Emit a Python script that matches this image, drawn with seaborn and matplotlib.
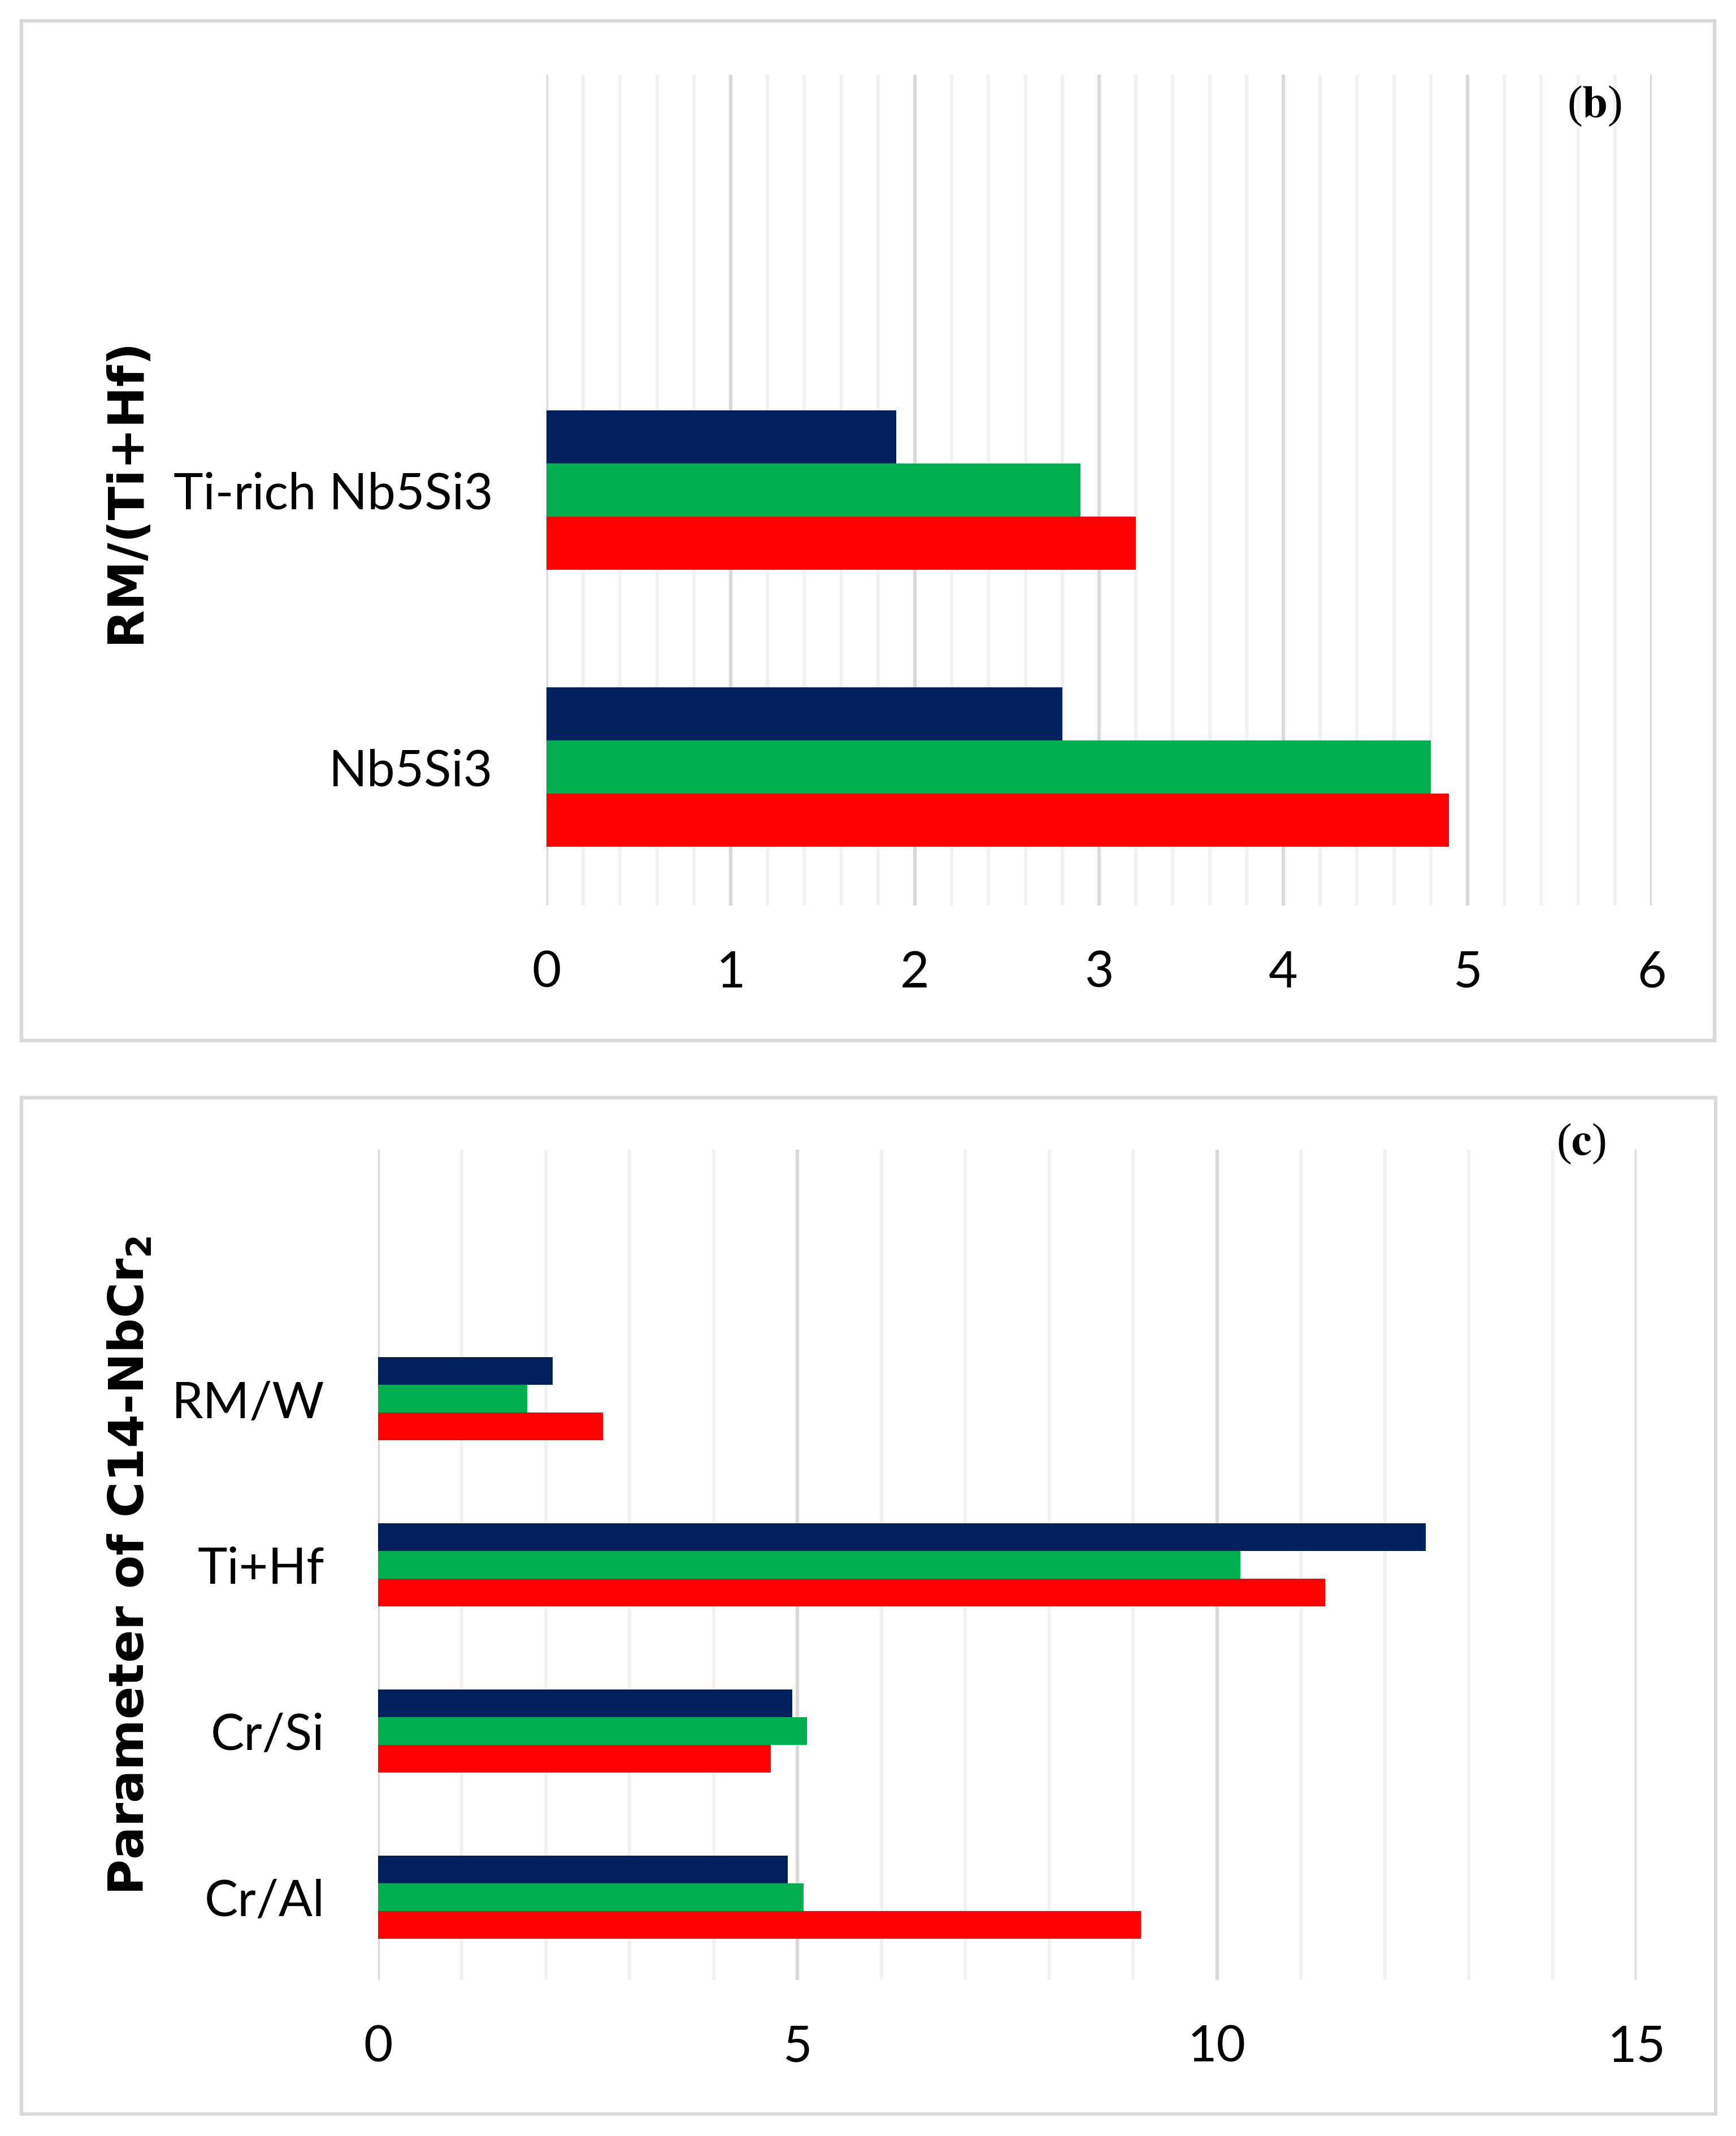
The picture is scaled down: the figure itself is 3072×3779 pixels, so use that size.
import pandas as pd
import seaborn as sns
import matplotlib.pyplot as plt
from matplotlib.patches import Rectangle
from matplotlib.ticker import MultipleLocator

# data
series = ["s1", "s2", "s3"]
colors = ["#002060", "#00B050", "#FF0000"]

b_categories = ["Ti-rich Nb5Si3", "Nb5Si3"]
b_s1 = [1.9, 2.8]
b_s2 = [2.9, 4.8]
b_s3 = [3.2, 4.9]

c_categories = ["RM/W", "Ti+Hf", "Cr/Si", "Cr/Al"]
c_s1 = [2.08, 12.49, 4.94, 4.88]
c_s2 = [1.78, 10.28, 5.11, 5.07]
c_s3 = [2.68, 11.29, 4.68, 9.09]


def to_long(cats, vals):
    rows = []
    for name, v in zip(series, vals):
        for c, x in zip(cats, v):
            rows.append({"cat": c, "series": name, "value": x})
    return pd.DataFrame(rows)


df_b = to_long(b_categories, [b_s1, b_s2, b_s3])
df_c = to_long(c_categories, [c_s1, c_s2, c_s3])

sns.set_theme(style="white")
plt.rcParams["font.family"] = ["Lato", "DejaVu Sans"]

fig = plt.figure(figsize=(30.72, 37.8), dpi=100)

# panel frames
border = "#d9d9d9"
fig.patches.append(Rectangle((38 / 3072, 1 - 1842 / 3780), (3034 - 38) / 3072, (1842 - 38) / 3780,
                             transform=fig.transFigure, fill=False, edgecolor=border, linewidth=4.5))
fig.patches.append(Rectangle((38 / 3072, 1 - 3741 / 3780), (3036 - 38) / 3072, (3741 - 1943) / 3780,
                             transform=fig.transFigure, fill=False, edgecolor=border, linewidth=4.5))

ax_b = fig.add_axes([967 / 3072, 1 - 1603 / 3780, (2923 - 967) / 3072, (1603 - 133) / 3780])
ax_c = fig.add_axes([669 / 3072, 1 - 3504 / 3780, (2896 - 669) / 3072, (3504 - 2035) / 3780])


def draw(ax, df, cats, width, xmax, major, minor, ylab, ysize, label_x, tag, tag_xy):
    sns.barplot(data=df, x="value", y="cat", hue="series", order=cats, hue_order=series,
                palette=colors, orient="h", width=width, saturation=1, linewidth=0,
                errorbar=None, legend=False, ax=ax)
    ax.set_axisbelow(True)
    ax.set_xlim(0, xmax)
    ax.set_ylim(len(cats) - 0.5, -1.5)
    ax.xaxis.set_major_locator(MultipleLocator(major))
    ax.xaxis.set_minor_locator(MultipleLocator(minor))
    ax.grid(True, axis="x", which="major", color="#d9d9d9", linewidth=4.5)
    ax.grid(True, axis="x", which="minor", color="#f2f2f2", linewidth=4.5)
    ax.grid(False, axis="y")
    for s in ax.spines.values():
        s.set_visible(False)
    ax.tick_params(axis="both", which="both", length=0)
    ax.tick_params(axis="x", pad=56, labelsize=64, labelcolor="black")
    ax.tick_params(axis="y", pad=68, labelsize=64, labelcolor="black")
    ax.set_xlabel("")
    ax.set_ylabel(ylab, fontsize=ysize, fontweight="bold", family=["DejaVu Sans"], color="black")
    ax.yaxis.set_label_coords(label_x, 0.5)
    ax.text(tag_xy[0], tag_xy[1], tag, transform=ax.transAxes, ha="center", va="center",
            fontsize=58, family=["Liberation Serif"], math_fontfamily="stix", color="black")


draw(ax_b, df_b, b_categories, 0.575, 6, 1, 0.2, "RM/(Ti+Hf)", 63, -0.359,
     r"($\mathbf{b}$)", (0.948, 0.9626))
draw(ax_c, df_c, c_categories, 0.5, 15, 5, 1, r"Parameter of C14-NbCr$_{\mathbf{2}}$", 62, -0.178,
     r"($\mathbf{c}$)", (0.956, 1.0075))

fig.savefig("out.png", dpi=100)
